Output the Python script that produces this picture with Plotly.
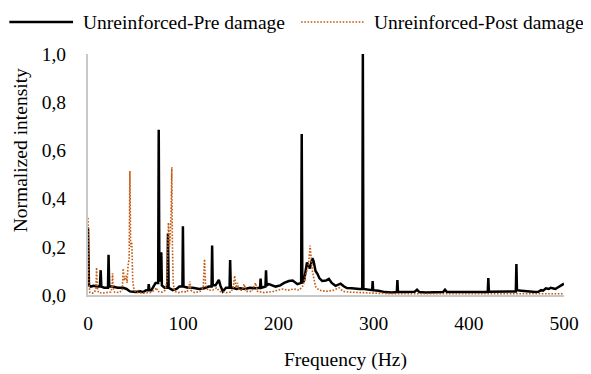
import plotly.graph_objects as go

# ---------------- data ----------------
pre_freq = [0, 1, 3, 6, 9, 12.5, 13.3, 14, 17, 21, 21.6, 22.3, 26, 31, 37, 40.5, 44, 50, 55, 58,
            61, 63.3, 63.8, 64.5, 66.6, 70, 71, 73.7, 74.3, 75, 76.5, 77, 77.6, 80.5, 83.4, 84, 84.7,
            89, 93, 96, 99.2, 99.7, 100.3, 105, 110, 117, 122, 127, 129.8, 130.4, 131, 134, 137.4,
            139, 141.6, 145, 148.7, 149.3, 150, 152, 156, 160, 165, 170, 176, 180.7, 181.3, 182,
            186.4, 187, 187.6, 190, 193, 197, 202, 206, 211, 215, 220, 223.9, 224.5, 225.1, 227,
            230, 233, 235.7, 237, 239, 241, 243, 246, 250, 253, 256, 260, 263, 265.3, 269, 272,
            277, 281, 285, 288.1, 288.7, 289.3, 293, 297, 298.5, 299, 299.5, 305, 312, 319, 324.4,
            325, 325.6, 332, 340, 343, 345.6, 348, 355, 365, 373, 375, 377, 385, 395, 405, 415,
            419.9, 420.5, 421.1, 430, 440, 449.4, 450, 450.6, 455, 460, 465, 470, 473, 476, 478,
            481, 484, 486, 489, 491, 493, 495, 498, 500]
pre_int = [0.28, 0.04, 0.035, 0.038, 0.035, 0.035, 0.103, 0.035, 0.03, 0.03, 0.167, 0.035, 0.035,
           0.03, 0.03, 0.025, 0.015, 0.013, 0.015, 0.012, 0.02, 0.02, 0.045, 0.02, 0.02, 0.04, 0.05,
           0.05, 0.686, 0.06, 0.06, 0.177, 0.04, 0.03, 0.03, 0.255, 0.03, 0.02, 0.025, 0.035, 0.035,
           0.285, 0.035, 0.03, 0.03, 0.025, 0.028, 0.035, 0.035, 0.205, 0.04, 0.04, 0.063, 0.04,
           0.015, 0.03, 0.03, 0.145, 0.03, 0.03, 0.025, 0.028, 0.025, 0.03, 0.028, 0.03, 0.068,
           0.03, 0.035, 0.103, 0.04, 0.045, 0.04, 0.035, 0.04, 0.05, 0.058, 0.06, 0.045, 0.05,
           0.668, 0.05, 0.06, 0.135, 0.11, 0.153, 0.14, 0.1, 0.088, 0.07, 0.058, 0.06, 0.067, 0.05,
           0.038, 0.045, 0.047, 0.035, 0.029, 0.028, 0.025, 0.025, 0.025, 1.0, 0.025, 0.022, 0.02,
           0.02, 0.058, 0.02, 0.018, 0.012, 0.01, 0.012, 0.062, 0.012, 0.012, 0.012, 0.013, 0.022,
           0.012, 0.01, 0.01, 0.012, 0.022, 0.012, 0.012, 0.011, 0.012, 0.012, 0.012, 0.07, 0.014,
           0.014, 0.015, 0.015, 0.128, 0.02, 0.018, 0.016, 0.012, 0.012, 0.013, 0.02, 0.018, 0.028,
           0.025, 0.03, 0.027, 0.025, 0.03, 0.035, 0.04, 0.047]

post_freq = [0, 1, 2, 5, 7, 8.3, 9, 9.8, 11, 15, 19, 24, 25.2, 25.8, 26.5, 28, 33, 36, 37, 38, 40,
             41, 42, 43.2, 44, 44.8, 46, 47, 48, 50, 55, 60, 65, 68, 70, 72, 73, 78, 81, 83, 84.5,
             85.5, 86.5, 87.3, 88, 88.7, 89.5, 91, 95, 100, 104, 106, 107, 108, 112, 118, 121,
             122.4, 123.5, 126, 131, 135, 138, 145, 150, 152.5, 154, 155.5, 157, 158.5, 162, 164,
             166, 172, 176, 178, 185, 195, 204, 210, 216.5, 222, 226, 229, 231.5, 233.3, 235.7,
             239, 242.7, 250, 258, 263.6, 268, 275, 285, 295, 310, 330, 360, 400, 440, 470, 500]
post_int = [0.32, 0.05, 0.01, 0.008, 0.012, 0.03, 0.114, 0.03, 0.01, 0.008, 0.01, 0.012, 0.03, 0.09,
            0.03, 0.012, 0.01, 0.02, 0.11, 0.06, 0.08, 0.05, 0.12, 0.15, 0.515, 0.2, 0.22, 0.06,
            0.03, 0.012, 0.008, 0.01, 0.01, 0.015, 0.02, 0.03, 0.015, 0.012, 0.02, 0.06, 0.3, 0.2,
            0.25, 0.35, 0.53, 0.2, 0.05, 0.015, 0.01, 0.015, 0.012, 0.03, 0.056, 0.02, 0.01, 0.015,
            0.03, 0.149, 0.04, 0.02, 0.02, 0.03, 0.015, 0.01, 0.012, 0.03, 0.08, 0.03, 0.05, 0.02,
            0.02, 0.045, 0.015, 0.015, 0.05, 0.015, 0.01, 0.015, 0.025, 0.02, 0.025, 0.02, 0.04,
            0.088, 0.12, 0.205, 0.1, 0.035, 0.02, 0.015, 0.02, 0.03, 0.015, 0.012, 0.01, 0.008,
            0.006, 0.005, 0.005, 0.005, 0.005, 0.005, 0.005]

x_ticks = [0, 100, 200, 300, 400, 500]
y_ticks = [0.0, 0.2, 0.4, 0.6, 0.8, 1.0]

series_names = ["Unreinforced-Pre damage", "Unreinforced-Post damage"]
x_title = "Frequency (Hz)"
y_title = "Normalized intensity"

# ---------------- layout geometry ----------------
# The browser page has an 8px body margin, so the figure is drawn 8px smaller
# and all screen positions are shifted by OFF.
OFF = 8
W, H = 591 - OFF, 374 - OFF
L, R, T, B = 80, 25, 46, 79
PW, PH = W - L - R, H - T - B
FONT = "Times New Roman, Liberation Serif, DejaVu Serif, serif"
BLACK = "#000000"
ORANGE = "#C55A11"
FS = 19.5


def px(x):  # x given in screen pixels
    return (x - OFF - L) / PW


def py(y):  # y given in screen pixels
    return (H - B - (y - OFF)) / PH


fig = go.Figure()
fig.add_trace(go.Scatter(x=pre_freq, y=pre_int, mode="lines", name=series_names[0],
                         line=dict(color=BLACK, width=2.5), showlegend=False))
fig.add_trace(go.Scatter(x=post_freq, y=post_int, mode="lines", name=series_names[1],
                         line=dict(color=ORANGE, width=1.6, dash="1.6px,1.6px"), showlegend=False))

# manual legend
fig.add_shape(type="line", xref="paper", yref="paper", x0=px(9), x1=px(73), y0=py(22), y1=py(22),
              line=dict(color=BLACK, width=2.5))
fig.add_shape(type="line", xref="paper", yref="paper", x0=px(302), x1=px(365), y0=py(22), y1=py(22),
              line=dict(color=ORANGE, width=1.6, dash="1.6px,1.6px"))
fig.add_annotation(x=px(81), y=py(22), xref="paper", yref="paper", text=series_names[0],
                   showarrow=False, xanchor="left", yanchor="middle",
                   font=dict(family=FONT, size=FS, color=BLACK))
fig.add_annotation(x=px(373), y=py(22), xref="paper", yref="paper", text=series_names[1],
                   showarrow=False, xanchor="left", yanchor="middle",
                   font=dict(family=FONT, size=FS, color=BLACK))

# axis titles
fig.add_annotation(x=px(347), y=py(373), xref="paper", yref="paper", text=x_title,
                   showarrow=False, xanchor="center", yanchor="bottom",
                   font=dict(family=FONT, size=FS, color=BLACK))
fig.add_annotation(x=px(20), y=py(150), xref="paper", yref="paper", text=y_title,
                   showarrow=False, xanchor="center", yanchor="middle", textangle=-90,
                   font=dict(family=FONT, size=FS, color=BLACK))

fig.update_layout(
    width=W, height=H,
    margin=dict(l=L, r=R, t=T, b=B),
    paper_bgcolor="white", plot_bgcolor="white",
    separators=", ",
    font=dict(family=FONT, size=FS, color=BLACK),
    showlegend=False,
)
fig.update_xaxes(range=[0, 500], tickvals=x_ticks, showgrid=False, zeroline=False,
                 showline=True, linecolor="#C8C8C8", linewidth=2, ticks="",
                 ticklabelstandoff=10, tickfont=dict(family=FONT, size=FS, color=BLACK))
fig.update_yaxes(range=[0, 1.0], tickvals=y_ticks, tickformat=".1f", showgrid=False,
                 zeroline=False, showline=True, linecolor="#C8C8C8", linewidth=2, ticks="",
                 ticklabelstandoff=16, tickfont=dict(family=FONT, size=FS, color=BLACK))

fig.write_html("out.html")
